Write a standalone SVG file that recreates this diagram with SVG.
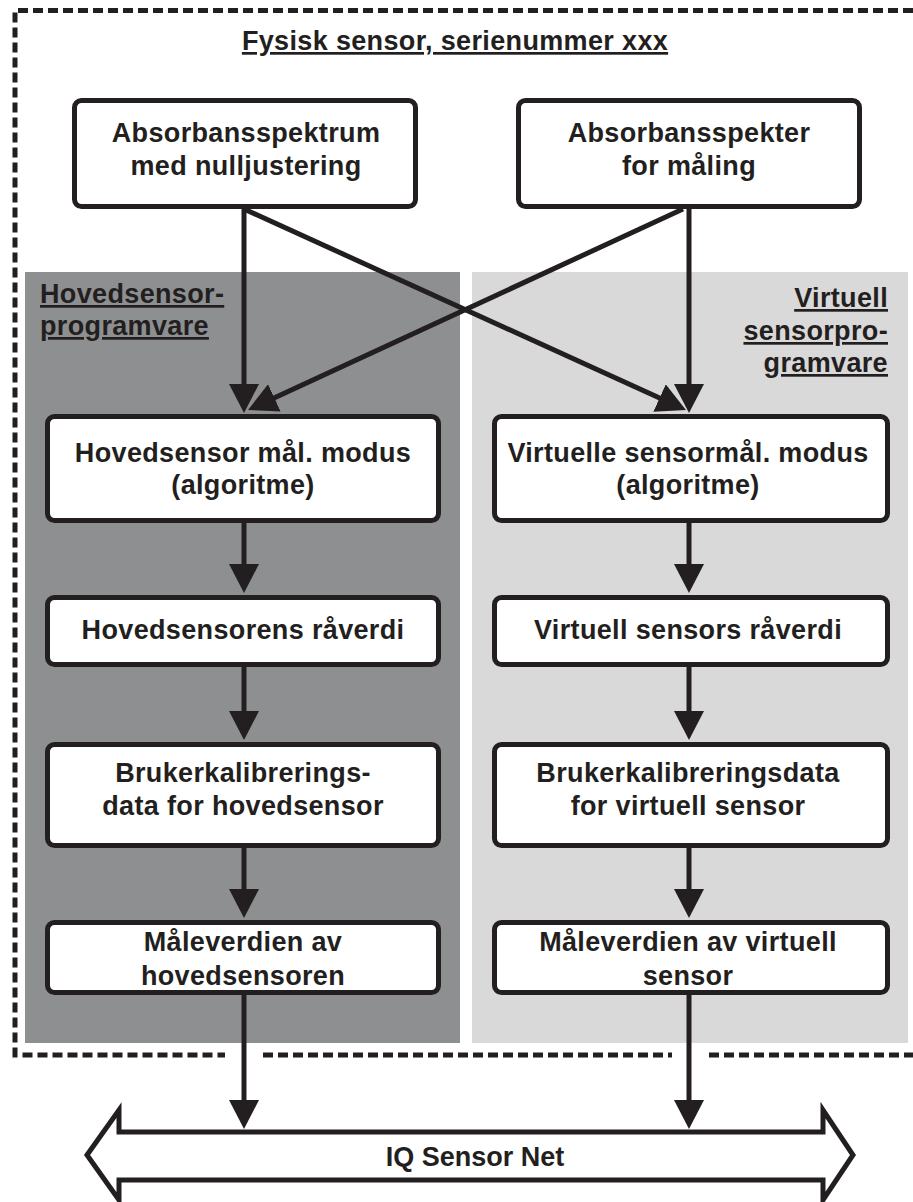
<svg xmlns="http://www.w3.org/2000/svg" width="913" height="1202" viewBox="0 0 913 1202">
<defs>
<style>
.t{font-family:"Liberation Sans",Arial,Helvetica,sans-serif;font-weight:bold;font-size:27px;fill:#231f20;letter-spacing:0.35px}
.c{text-anchor:middle}
.u{text-decoration:underline}
.box{fill:#fff;stroke:#231f20;stroke-width:5}
.ln{stroke:#231f20;stroke-width:5;fill:none;marker-end:url(#ah)}
</style>
<marker id="ah" markerUnits="userSpaceOnUse" markerWidth="30" markerHeight="30" refX="23" refY="15" orient="auto" viewBox="0 0 30 30">
<path d="M0,0 L29,15 L0,30 z" fill="#231f20"/>
</marker>
</defs>
<rect width="913" height="1202" fill="#fff"/>
<g id="panels">
<rect id="panel-main" x="25" y="272" width="435" height="771" fill="#8e8f91"/>
<rect id="panel-virtual" x="472" y="272" width="436" height="771" fill="#d9d9d9"/>
</g>
<g id="border">
<path d="M913,10.5 H15 V1055 H225 M263,1055 H672 M709,1055 H913" fill="none" stroke="#231f20" stroke-width="5" stroke-dasharray="10 5"/>
<text class="t c u" x="455" y="50">Fysisk sensor, serienummer xxx</text>
</g>
<g id="panel-labels">
<text class="t u" x="40" y="303">Hovedsensor-</text>
<text class="t u" x="40" y="335">programvare</text>
<text class="t u" x="888" y="307" text-anchor="end">Virtuell</text>
<text class="t u" x="888" y="340" text-anchor="end">sensorpro-</text>
<text class="t u" x="888" y="372" text-anchor="end">gramvare</text>
</g>
<g id="connectors">
<line class="ln" x1="244" y1="209" x2="244" y2="407"/>
<line class="ln" x1="244" y1="209" x2="680.5" y2="407.5"/>
<line class="ln" x1="689" y1="209" x2="689" y2="407"/>
<line class="ln" x1="683" y1="209" x2="253.5" y2="407.5"/>
<line class="ln" x1="244" y1="523" x2="244" y2="587"/>
<line class="ln" x1="689" y1="523" x2="689" y2="587"/>
<line class="ln" x1="244" y1="667" x2="244" y2="734"/>
<line class="ln" x1="689" y1="667" x2="689" y2="734"/>
<line class="ln" x1="244" y1="848" x2="244" y2="912"/>
<line class="ln" x1="689" y1="848" x2="689" y2="912"/>
<line class="ln" x1="244" y1="995" x2="244" y2="1123"/>
<line class="ln" x1="689" y1="995" x2="689" y2="1123"/>
</g>
<g id="n-abs-null">
<rect class="box" x="74.5" y="100.5" width="341" height="106" rx="7"/>
<text class="t c" x="246" y="142">Absorbansspektrum</text>
<text class="t c" x="246" y="175">med nulljustering</text>
</g>
<g id="n-abs-maaling">
<rect class="box" x="518.5" y="100.5" width="341" height="106" rx="7"/>
<text class="t c" x="689" y="142">Absorbansspekter</text>
<text class="t c" x="689" y="175">for måling</text>
</g>
<g id="n-hoved-modus">
<rect class="box" x="47.5" y="416.5" width="391" height="104" rx="7"/>
<text class="t c" x="243" y="462">Hovedsensor mål. modus</text>
<text class="t c" x="243" y="494">(algoritme)</text>
</g>
<g id="n-virt-modus">
<rect class="box" x="494.5" y="416.5" width="393" height="104" rx="7"/>
<text class="t c" x="688" y="462">Virtuelle sensormål. modus</text>
<text class="t c" x="688" y="494">(algoritme)</text>
</g>
<g id="n-hoved-raa">
<rect class="box" x="47.5" y="597.5" width="391" height="67" rx="7"/>
<text class="t c" x="243" y="639">Hovedsensorens råverdi</text>
</g>
<g id="n-virt-raa">
<rect class="box" x="494.5" y="597.5" width="393" height="67" rx="7"/>
<text class="t c" x="688" y="639">Virtuell sensors råverdi</text>
</g>
<g id="n-hoved-kal">
<rect class="box" x="47.5" y="744.5" width="391" height="101" rx="7"/>
<text class="t c" x="243" y="782">Brukerkalibrerings-</text>
<text class="t c" x="243" y="815">data for hovedsensor</text>
</g>
<g id="n-virt-kal">
<rect class="box" x="494.5" y="744.5" width="393" height="101" rx="7"/>
<text class="t c" x="688" y="782">Brukerkalibreringsdata</text>
<text class="t c" x="688" y="815">for virtuell sensor</text>
</g>
<g id="n-hoved-maal">
<rect class="box" x="47.5" y="922.5" width="391" height="70" rx="7"/>
<text class="t c" x="243" y="951">Måleverdien av</text>
<text class="t c" x="243" y="985">hovedsensoren</text>
</g>
<g id="n-virt-maal">
<rect class="box" x="494.5" y="922.5" width="393" height="70" rx="7"/>
<text class="t c" x="688" y="951">Måleverdien av virtuell</text>
<text class="t c" x="688" y="985">sensor</text>
</g>
<g id="n-iq">
<path d="M87,1155 L119,1110 L119,1132 L823,1132 L823,1110 L853,1155 L823,1200 L823,1180 L119,1180 L119,1200 Z" fill="#fff" stroke="#231f20" stroke-width="5" stroke-linejoin="miter"/>
<text class="t c" x="475" y="1166" style="letter-spacing:0">IQ Sensor Net</text>
</g>
</svg>
